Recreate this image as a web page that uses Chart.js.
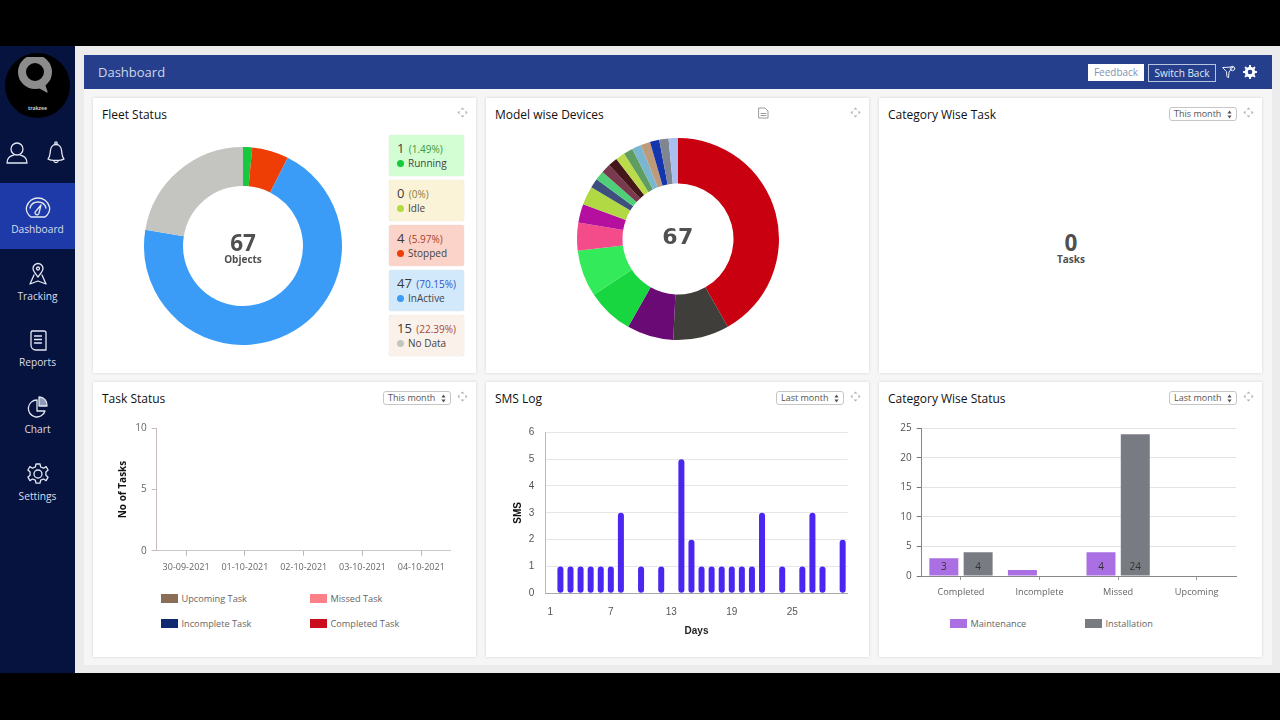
<!DOCTYPE html>
<html>
<head>
<meta charset="utf-8">
<title>Dashboard</title>
<script src="https://cdn.jsdelivr.net/npm/chart.js@4"></script>
<style>
html, body { margin: 0; padding: 0; width: 1280px; height: 720px; overflow: hidden; background: #000; font-family: "Open Sans", sans-serif; }
#stage { position: absolute; left: 0; top: 0; width: 1280px; height: 720px; }
#stage > * { position: absolute; }
#stage svg { display: block; }
.card { background: #fff; box-shadow: 0 0 3px rgba(0,0,0,.14); }
.title { font-size: 12px; color: #111; white-space: nowrap; line-height: 16px; }
.navtxt { left: 0; width: 75px; text-align: center; font-size: 10.2px; color: #d9deea; line-height: 14px; }
.period { width: 66px; height: 12px; border: 1px solid #c6c6c6; border-radius: 3px; font-size: 9px; line-height: 11px; color: #555; background: #fff; text-indent: 4px; }
.period svg { position: absolute; right: 4px; top: 1.5px; }
.chip { left: 389px; width: 75px; height: 41px; border-radius: 3px; box-shadow: 0 0 1px rgba(0,0,0,.25); }
.chip .n { position: absolute; left: 8px; top: 4px; font-size: 13px; line-height: 18px; color: #3b3b3b; white-space: nowrap; }
.chip .n span { font-size: 10px; margin-left: 1px; }
.chip .l { position: absolute; left: 19px; top: 21px; font-size: 10px; line-height: 15px; color: #444; white-space: nowrap; }
.chip i { position: absolute; left: 8px; top: 25px; width: 7px; height: 7px; border-radius: 50%; }
.center { text-align: center; color: #505050; font-weight: 700; }
.legtxt { font-size: 9.2px; line-height: 14px; color: #666; white-space: nowrap; }
.swatch { width: 17px; height: 9px; }
canvas { position: absolute; }
</style>
</head>
<body>
<div id="stage"></div>
<script>
// values
const fleetLabels = ["Running", "Idle", "Stopped", "InActive", "No Data"];
const fleetValues = [1, 0, 4, 47, 15];
const fleetPercents = ["1.49%", "0%", "5.97%", "70.15%", "22.39%"];
const fleetColors = ["#16c93f", "#b3d943", "#ee3e06", "#3a9cf7", "#c4c5c0"];
const fleetChipColors = ["#d3fdd3", "#fbf3d7", "#fbd3c8", "#d2e9fc", "#faf1ea"];
const fleetPercentColors = ["#3b9a3b", "#8a7d3a", "#a8412c", "#2f56c9", "#a84a3a"];

const modelValues = [28, 6, 5, 5, 5, 3, 2, 2, 1, 1, 1, 1, 1, 1, 1, 1, 1, 1, 1];
const modelColors = ["#c90010", "#403e3a", "#6a0a75", "#17d63f", "#33ea5a", "#f44b8a", "#b40f9e", "#b1d943",
    "#3e4e7d", "#4fd078", "#7a3a4e", "#45161a", "#bcdb4a", "#5f9e60", "#7ab6cf", "#c09a78", "#1336ae", "#7f8591", "#a9bff0"];

const taskDates = ["30-09-2021", "01-10-2021", "02-10-2021", "03-10-2021", "04-10-2021"];
const taskSeries = ["Upcoming Task", "Missed Task", "Incomplete Task", "Completed Task"];
const taskUpcoming = [0, 0, 0, 0, 0];
const taskMissed = [0, 0, 0, 0, 0];
const taskIncomplete = [0, 0, 0, 0, 0];
const taskCompleted = [0, 0, 0, 0, 0];
const taskColors = ["#8a6d57", "#fb8088", "#0f2a6e", "#c90d1c"];

const smsDays = ["1","2","3","4","5","6","7","8","9","10","11","12","13","14","15","16","17","18","19","20","21","22","23","24","25","26","27","28","29","30"];
const smsValues = [0,1,1,1,1,1,1,3,0,1,0,1,0,5,2,1,1,1,1,1,1,3,0,1,0,1,3,1,0,2];

const statusCategories = ["Completed", "Incomplete", "Missed", "Upcoming"];
const maintenanceValues = [3, 1, 4, 0];
const installationValues = [4, 0, 24, 0];

const stage = document.getElementById("stage");

function box(left, top, width, height, css, cls, html) {
    const el = document.createElement("div");
    if (cls) el.className = cls;
    el.style.cssText = "left:" + left + "px;top:" + top + "px;" +
        (width != null ? "width:" + width + "px;" : "") +
        (height != null ? "height:" + height + "px;" : "") + (css || "");
    if (html) el.innerHTML = html;
    stage.appendChild(el);
    return el;
}

function icon(cx, cy, w, h, body, color, sw) {
    const el = box(cx - w / 2, cy - h / 2, w, h);
    el.innerHTML = '<svg width="' + w + '" height="' + h + '" viewBox="0 0 ' + w + ' ' + h + '" fill="none" stroke="' + (color || "#e4e8f2") +
        '" stroke-width="' + (sw || 1.3) + '" stroke-linecap="round" stroke-linejoin="round">' + body + '</svg>';
}

function moveIcon(cx, cy) {
    icon(cx, cy, 11, 11, '<path d="M5.5 0.5l2 2h-4zM5.5 10.5l2-2h-4zM0.5 5.5l2-2v4zM10.5 5.5l-2-2v4z" fill="#aeb2b6" stroke="none"/>');
}

function periodSelect(left, top, text) {
    box(left, top, null, null, "", "period", text +
        '<svg width="5" height="9" viewBox="0 0 5 9"><path d="M2.5 0.5L4.6 3.4H0.4zM2.5 8.5L4.6 5.6H0.4z" fill="#555"/></svg>');
}

// page frame
box(0, 46, 1280, 627, "background:#ececec");
box(84, 89, 1188, 576, "background:#f6f6f6");
box(84, 55, 1188, 34, "background:#253f8c");
box(98, 63, 200, 18, "font-size:13px;line-height:18px;color:#cdd6ea", "", "Dashboard");
box(1088, 64, 56, 17, "background:#fff;font-size:10px;line-height:17px;text-align:center;color:#8391b4", "", "Feedback");
box(1148, 64, 66, 16, "border:1px solid #b9c5e0;font-size:10px;line-height:16px;text-align:center;color:#e4e9f4", "", "Switch Back");
icon(1229, 72, 14, 14, '<path d="M1 2.5L11 2L7 7L6.5 13L5 11.5L4.5 7z"/><circle cx="10.5" cy="3.5" r="2.2"/>', "#e8ecf5", 1);
icon(1250, 72, 14, 14, '<circle cx="7" cy="7" r="3.8" stroke-width="3"/><path d="M7 .8v2M7 11.2v2M.8 7h2M11.2 7h2M2.6 2.6l1.4 1.4M10 10l1.4 1.4M2.6 11.4L4 10M10 4l1.4-1.4" stroke-width="2"/>', "#fff");

// sidebar
box(0, 46, 75, 627, "background:#07133f");
box(0, 183, 75, 66, "background:#1e3aa8");
box(5, 53, 65, 65, "background:#000;border-radius:50%");
icon(36, 77, 36, 40, '<circle cx="17" cy="15" r="13" stroke="#8c8c8c" stroke-width="8"/><path d="M26 26l3 9-9-5" stroke="#8c8c8c" fill="#8c8c8c"/>');
box(5, 104, 65, 9, "font-size:5px;line-height:9px;text-align:center;color:#ccc;font-weight:700", "", "trakzee");
icon(17, 153, 24, 24, '<circle cx="12" cy="8" r="6"/><path d="M2 22c0-6 4-7 7-8M22 22c0-6-4-7-7-8M2 22h20"/>');
icon(56, 153, 22, 24, '<path d="M3 18c2-2 2-5 2.500-9C6 5 9 3.500 11 3.500S16 5 16.500 9C17 13 17 16 19 18c-3 2-13 2-16 0z"/><circle cx="11" cy="2" r="1.200"/><path d="M9 20.500c1 1.500 3 1.500 4 0"/>');
icon(37.5, 208, 26, 22, '<path d="M6 20C2 17 1 13 1.500 10 3 4 8 1 13 1s10 3 11.500 9c.5 3-.5 7-4.500 10z"/><path d="M5 11c1-4 4-6 8-6s7 2 8 6"/><path d="M16 8l-5 6a2 2 0 1 0 3 2z"/>');
box(0, 222, 75, 14, "", "navtxt", "Dashboard");
icon(37.5, 274, 18, 24, '<path d="M9 15C6 11 4 9 4 6.500a5 5 0 0 1 10 0C14 9 12 11 9 15z"/><circle cx="9" cy="6.500" r="1.500"/><path d="M5 13l-4 9 8-3 8 3-4-9"/>');
box(0, 288.500, 75, 14, "", "navtxt", "Tracking");
icon(37.5, 341, 18, 22, '<path d="M3 1h12a2 2 0 0 1 2 2v17H7c-3 0-5-2-5-5V3c0-1 .5-2 1-2z"/><path d="M5.500 6h7M5.500 9.500h7M5.500 13h7"/>');
box(0, 355, 75, 14, "", "navtxt", "Reports");
icon(37.5, 407, 24, 22, '<path d="M11 4a8.500 8.500 0 1 0 8 11H11z"/><path d="M13 1a8 8 0 0 1 8 9h-8z" fill="#8f99b8"/>');
box(0, 422, 75, 14, "", "navtxt", "Chart");
icon(37.5, 474, 22, 22, '<circle cx="11" cy="11" r="4"/><path d="M9 1h4l.7 3 2.800 1.200 2.600-1.600 2 3.400-2.200 2 0 3.200 2.200 2-2 3.400-2.600-1.600-2.800 1.200-.7 3H9l-.7-3-2.800-1.200-2.600 1.600-2-3.400 2.200-2 0-3.200-2.200-2 2-3.400 2.600 1.600L8.300 4z"/>');
box(0, 488.500, 75, 14, "", "navtxt", "Settings");

// cards
const cardLefts = [93, 486, 879];
const cardTops = [98, 382];
const cardTitles = [["Fleet Status", "Model wise Devices", "Category Wise Task"], ["Task Status", "SMS Log", "Category Wise Status"]];
cardTops.forEach((top, r) => cardLefts.forEach((left, c) => {
    box(left, top, 383, 275, "", "card");
    box(left + 9, top + 9, 300, 16, "", "title", cardTitles[r][c]);
    moveIcon(left + 369, top + 14);
}));
periodSelect(1169, 107, "This month");
periodSelect(383, 391, "This month");
periodSelect(776, 391, "Last month");
periodSelect(1169, 391, "Last month");
icon(763, 113, 11, 12, '<path d="M1 1h6l3 3v7H1z"/><path d="M3 6.500h5M3 8.500h5"/>', "#9a9a9a", 1);

// fleet legend chips
fleetLabels.forEach((label, i) => {
    box(389, 135 + i * 45, null, null, "background:" + fleetChipColors[i], "chip",
        '<div class="n">' + fleetValues[i] + ' <span style="color:' + fleetPercentColors[i] + '">(' + fleetPercents[i] + ')</span></div>' +
        '<i style="background:' + fleetColors[i] + '"></i><div class="l">' + label + '</div>');
});

function addCanvas(left, top, width, height) {
    const cv = document.createElement("canvas");
    cv.width = width;
    cv.height = height;
    cv.style.cssText = "left:" + left + "px;top:" + top + "px;width:" + width + "px;height:" + height + "px";
    stage.appendChild(cv);
    return cv;
}

function donut(cx, cy, outer, inner, values, colors) {
    const size = 2 * outer + 10;
    new Chart(addCanvas(cx - size / 2, cy - size / 2, size, size), {
        type: "doughnut",
        data: { datasets: [{ data: values, backgroundColor: colors, borderWidth: 0 }] },
        options: {
            responsive: false,
            animation: false,
            radius: outer,
            cutout: (inner / outer * 100) + "%",
            plugins: { legend: { display: false }, tooltip: { enabled: false } }
        }
    });
}

donut(243, 245.5, 99, 60, fleetValues, fleetColors);
donut(677.7, 239.2, 101, 55.5, modelValues, modelColors);

box(193, 228.500, 100, 28, "font-size:22.5px;line-height:28px", "center", "67");
box(193, 252, 100, 15, "font-size:10px;line-height:15px", "center", "Objects");
box(628, 222, 100, 30, "font-family:'DejaVu Sans';font-size:22px;line-height:30px;letter-spacing:.5px", "center", "67");
box(1021, 228.500, 100, 28, "font-size:22.5px;line-height:28px", "center", "0");
box(1021, 252, 100, 15, "font-size:10px;line-height:15px", "center", "Tasks");

// chart with its plot area pinned to the given pixel edges
function axisChart(canvasBox, plot, config) {
    const [cl, ct, cw, ch] = canvasBox;
    const o = config.options;
    o.responsive = false;
    o.animation = false;
    o.layout = { padding: { top: plot.top - ct, right: cl + cw - plot.right, left: 0, bottom: 0 } };
    o.plugins = { legend: { display: false }, tooltip: { enabled: false } };
    o.scales.x.afterFit = s => { s.height = ct + ch - plot.bottom; s.paddingLeft = 0; s.paddingRight = 0; };
    o.scales.y.afterFit = s => { s.width = plot.left - cl; s.paddingTop = 0; s.paddingBottom = 0; };
    return new Chart(addCanvas(cl, ct, cw, ch), config);
}

const arialFont = { family: "'Liberation Sans'", size: 10 };

axisChart([117, 420, 343, 160], { left: 156.7, right: 450.7, top: 428.3, bottom: 550.7 }, {
    type: "bar",
    data: {
        labels: taskDates,
        datasets: [
            { label: taskSeries[0], data: taskUpcoming, backgroundColor: taskColors[0] },
            { label: taskSeries[1], data: taskMissed, backgroundColor: taskColors[1] },
            { label: taskSeries[2], data: taskIncomplete, backgroundColor: taskColors[2] },
            { label: taskSeries[3], data: taskCompleted, backgroundColor: taskColors[3] }
        ]
    },
    options: {
        scales: {
            x: {
                grid: { drawOnChartArea: false, offset: false, color: "#b8b8b8", tickLength: 5 },
                border: { color: "#c9c9c9" },
                ticks: { font: { family: "'Open Sans'", size: 9 }, color: "#666", padding: 6, maxRotation: 0, autoSkip: false }
            },
            y: {
                min: 0, max: 10,
                grid: { drawOnChartArea: false, color: "#c8baba", tickLength: 5 },
                border: { color: "#c8baba" },
                ticks: { stepSize: 5, font: { family: "'Open Sans'", size: 10 }, color: "#666", padding: 5 },
                title: { display: true, text: "No of Tasks", color: "#111", padding: 0,
                    font: { family: "'Open Sans'", size: 10, weight: "bold" } }
            }
        }
    }
});

axisChart([512, 425, 343, 215], { left: 545.3, right: 847.7, top: 432.3, bottom: 593.3 }, {
    type: "bar",
    data: { labels: smsDays, datasets: [{ label: "SMS", data: smsValues, backgroundColor: "#4a26f0",
        barThickness: 6, borderSkipped: false, inflateAmount: 0,
        borderRadius: { topLeft: 3, topRight: 3, bottomLeft: 3, bottomRight: 3 } }] },
    options: {
        scales: {
            x: {
                grid: { display: false },
                border: { color: "#aaa" },
                ticks: {
                    font: arialFont, color: "#555", padding: 5, maxRotation: 0, autoSkip: false,
                    callback: function (v, i) { return i % 6 === 0 ? smsDays[i] : ""; }
                },
                title: { display: true, text: "Days", color: "#222", padding: { top: 0, bottom: 3 },
                    font: { family: "'Liberation Sans'", size: 10, weight: "bold" } }
            },
            y: {
                min: 0, max: 6,
                grid: { color: "#e6e6e6", drawTicks: false },
                border: { color: "#bbb" },
                ticks: { stepSize: 1, font: arialFont, color: "#555", padding: 11 },
                title: { display: true, text: "SMS", color: "#111", padding: 0,
                    font: { family: "'Liberation Sans'", size: 10, weight: "bold" } }
            }
        }
    }
});

// value captions sit just above the foot of the taller bars
const barFootLabels = {
    id: "barFootLabels",
    afterDatasetsDraw(chart) {
        const ctx = chart.ctx;
        ctx.save();
        ctx.font = "10px 'Open Sans'";
        ctx.fillStyle = "#333";
        ctx.textAlign = "center";
        ctx.textBaseline = "middle";
        chart.data.datasets.forEach((ds, d) => {
            chart.getDatasetMeta(d).data.forEach((bar, i) => {
                if (ds.data[i] > 1) ctx.fillText(ds.data[i], bar.x, chart.scales.y.bottom - 9);
            });
        });
        ctx.restore();
    }
};

axisChart([890, 420, 355, 185], { left: 921.7, right: 1236, top: 428.3, bottom: 576 }, {
    type: "bar",
    plugins: [barFootLabels],
    data: {
        labels: statusCategories,
        datasets: [
            { label: "Maintenance", data: maintenanceValues, backgroundColor: "#a96fe3" },
            { label: "Installation", data: installationValues, backgroundColor: "#787b82" }
        ]
    },
    options: {
        datasets: { bar: { categoryPercentage: 0.873, barPercentage: 0.845 } },
        scales: {
            x: {
                grid: { drawOnChartArea: false, offset: false, color: "#999", tickLength: 4 },
                border: { color: "#888" },
                ticks: { font: { family: "'Open Sans'", size: 9.2 }, color: "#666", padding: 7, maxRotation: 0, autoSkip: false }
            },
            y: {
                min: 0, max: 25,
                grid: { color: "#e3e3e3", tickColor: "#777", tickLength: 5 },
                border: { color: "#888" },
                ticks: { stepSize: 5, font: { family: "'Open Sans'", size: 10 }, color: "#555", padding: 5 }
            }
        }
    }
});

// html legends
function legendItem(swatchLeft, top, color, label) {
    box(swatchLeft, top, null, null, "background:" + color, "swatch");
    box(swatchLeft + 20.5, top - 2.5, null, null, "", "legtxt", label);
}
legendItem(161, 594, taskColors[0], taskSeries[0]);
legendItem(310, 594, taskColors[1], taskSeries[1]);
legendItem(161, 619, taskColors[2], taskSeries[2]);
legendItem(310, 619, taskColors[3], taskSeries[3]);
legendItem(950, 619, "#a96fe3", "Maintenance");
legendItem(1085, 619, "#787b82", "Installation");
</script>
</body>
</html>
